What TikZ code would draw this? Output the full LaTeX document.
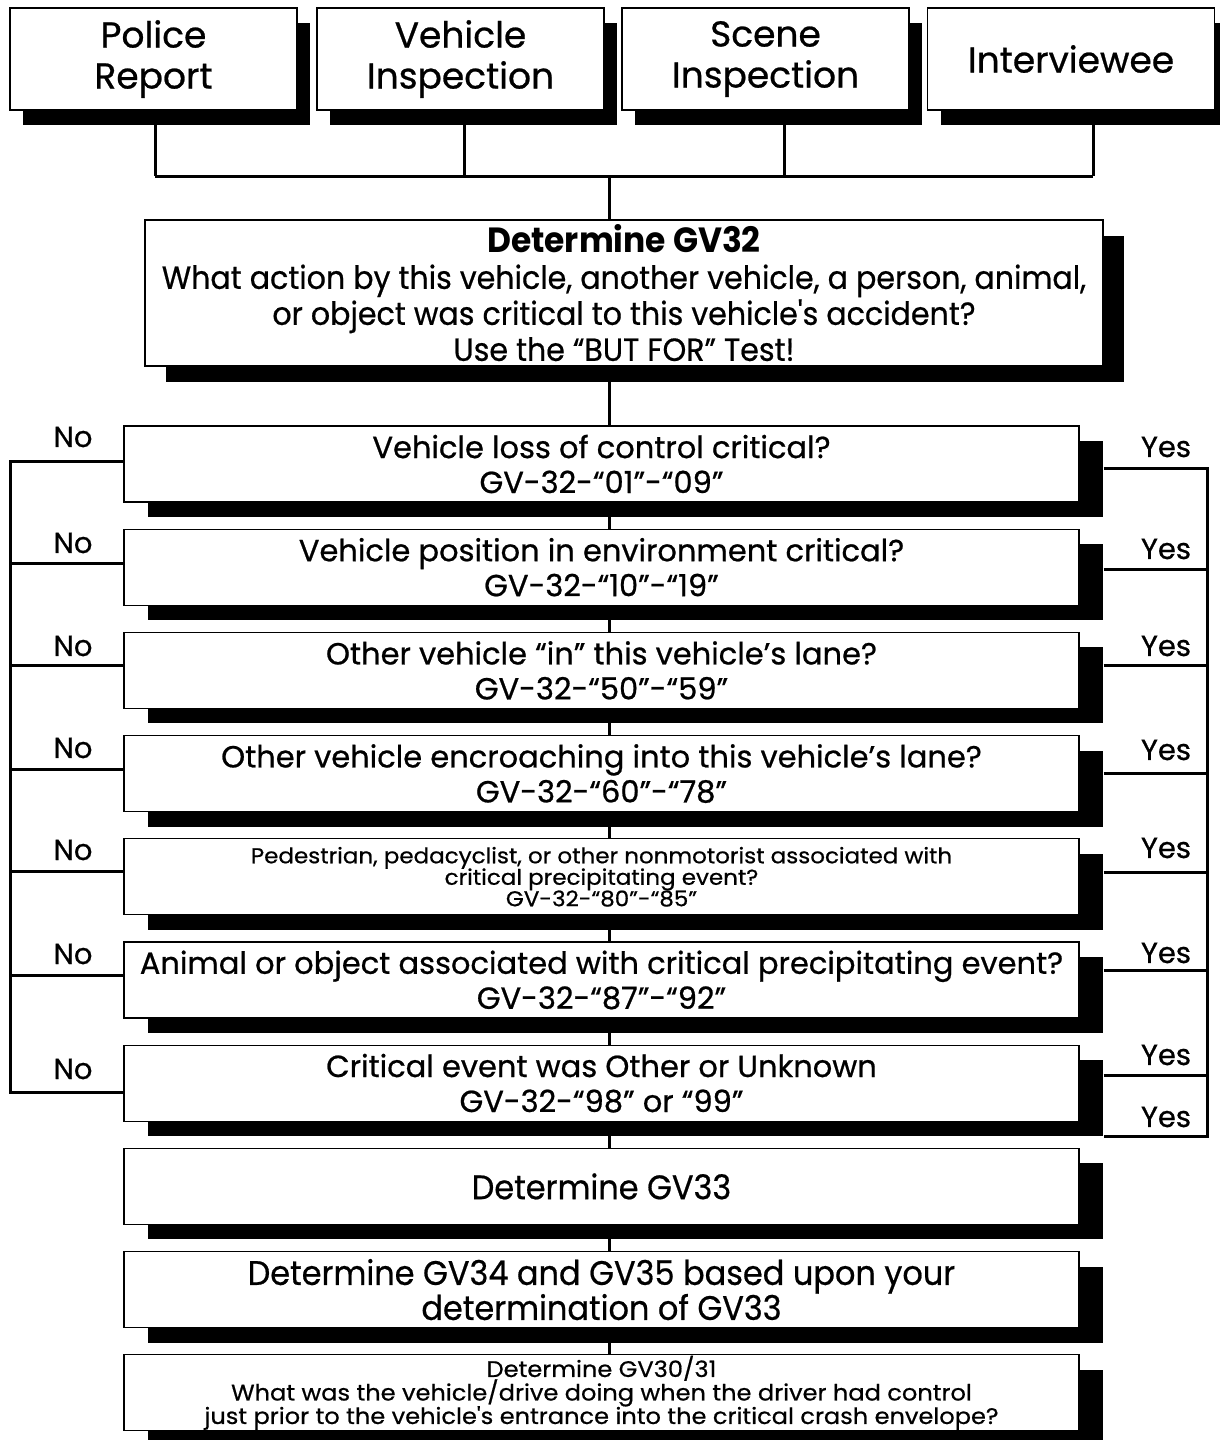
\documentclass[tikz,border=0pt]{standalone}
\usepackage{fontspec}
\setmainfont{Poppins}[UprightFeatures={FakeBold=0.7}]
\newfontfamily\condf{Poppins}[FakeStretch=0.94, UprightFeatures={FakeBold=0.6}]
\newfontfamily\widef{Poppins}[FakeStretch=1.07, UprightFeatures={FakeBold=0.6}]
\usetikzlibrary{shadows,calc}
\newcommand\tightlines{\lineskiplimit=-100pt\relax\lineskip=0pt\relax}
\begin{document}
\begin{tikzpicture}[x=1pt,y=-1pt,
  basebox/.style={draw, line width=1.2pt, fill=white, inner sep=0pt, align=center},
  topbox/.style={basebox, minimum width=287pt, minimum height=102pt,
    drop shadow={shadow xshift=13pt, shadow yshift=-15pt, fill=black, opacity=1},
    font=\fontsize{36}{41}\selectfont},
  qbox/.style={basebox, minimum width=955pt, minimum height=76pt,
    drop shadow={shadow xshift=24pt, shadow yshift=-15pt, fill=black, opacity=1},
    font=\fontsize{30.5}{35}\selectfont},
  conn/.style={line width=3pt},
  lab/.style={font=\fontsize{29}{29}\selectfont, inner sep=0pt}
]
\useasboundingbox[fill=white] (0,0) rectangle (1220,1440);

% top source boxes
\node[topbox] (pr) at (153.5,59) {Police\\Report};
\node[topbox] (vi) at (460.5,59) {Vehicle\\Inspection};
\node[topbox] (si) at (765.5,59) {Scene\\Inspection};
\node[topbox] (iv) at (1071,59) {Interviewee};

% GV32 box
\node[basebox, minimum width=958pt, minimum height=146pt,
  drop shadow={shadow xshift=21pt, shadow yshift=-16pt, fill=black, opacity=1},
  font=\condf\fontsize{32}{36}\selectfont] (gv) at (624,293)
  {{\bfseries\fontsize{35}{36}\selectfont Determine GV32}\\What action by this vehicle, another vehicle, a person, animal,\\or object was critical to this vehicle's accident?\\Use the “BUT FOR” Test!};

% decision boxes
\node[qbox] (q1) at (601.5,464.0) {Vehicle loss of control critical?\\GV-32-“01”-“09”};
\node[qbox] (q2) at (601.5,567.2) {Vehicle position in environment critical?\\GV-32-“10”-“19”};
\node[qbox] (q3) at (601.5,670.4) {Other vehicle “in” this vehicle's lane?\\GV-32-“50”-“59”};
\node[qbox] (q4) at (601.5,773.6) {Other vehicle encroaching into this vehicle's lane?\\GV-32-“60”-“78”};
\node[qbox, font=\widef\fontsize{21.5}{21.5}\selectfont\tightlines] (q5) at (601.5,876.8) {Pedestrian, pedacyclist, or other nonmotorist associated with\\critical precipitating event?\\GV-32-“80”-“85”};
\node[qbox] (q6) at (601.5,980.0) {Animal or object associated with critical precipitating event?\\GV-32-“87”-“92”};
\node[qbox] (q7) at (601.5,1083.2) {Critical event was Other or Unknown\\GV-32-“98” or “99”};
\node[qbox, font=\condf\fontsize{34}{35}\selectfont] (q8) at (601.5,1186.4) {Determine GV33};
\node[qbox, font=\condf\fontsize{34}{35}\selectfont] (q9) at (601.5,1289.6) {Determine GV34 and GV35 based upon your\\determination of GV33};
\node[qbox, font=\widef\fontsize{22.5}{23.5}\selectfont\tightlines] (q10) at (601.5,1392.8) {Determine GV30/31\\What was the vehicle/drive doing when the driver had control\\just prior to the vehicle's entrance into the critical crash envelope?};

% top bus
\coordinate (b1) at (155,176);
\coordinate (b2) at (464,176);
\coordinate (b3) at (784,176);
\coordinate (b4) at (1093,176);
\coordinate (bm) at (609,176);
\coordinate (sp) at (609,0);
\draw[conn] (pr.south -| b1) -- (b1);
\draw[conn] (vi.south -| b2) -- (b2);
\draw[conn] (si.south -| b3) -- (b3);
\draw[conn] (iv.south -| b4) -- (b4);
\draw[conn] (b1) -- (b4);
\draw[conn] (bm) -- (gv.north -| bm);

% spine
\draw[conn] (gv.south -| sp) -- (q1.north -| sp);
\foreach \a/\b in {q1/q2,q2/q3,q3/q4,q4/q5,q5/q6,q6/q7,q7/q8,q8/q9,q9/q10}
  \draw[conn] (\a.south -| sp) -- (\b.north -| sp);

% No side
\coordinate (n1) at (10,461);
\coordinate (n2) at (10,563);
\coordinate (n3) at (10,665);
\coordinate (n4) at (10,769);
\coordinate (n5) at (10,871);
\coordinate (n6) at (10,975);
\coordinate (n7) at (10,1092);
\draw[conn] (q1.west |- n1) -- (n1) -- (n7) -- (q7.west |- n7);
\foreach \i in {2,...,6}
  \draw[conn] (q\i.west |- n\i) -- (n\i);

% Yes side
\coordinate (y1) at (1207,468);
\coordinate (y2) at (1207,569);
\coordinate (y3) at (1207,665);
\coordinate (y4) at (1207,773);
\coordinate (y5) at (1207,872);
\coordinate (y6) at (1207,970);
\coordinate (y7) at (1207,1075);
\coordinate (y8) at (1207,1136);
\draw[conn] ($(q1.east |- y1)+(24,0)$) -- (y1) -- (y8) -- ($(q7.east |- y8)+(24,0)$);
\foreach \i in {2,...,7}
  \draw[conn] ($(q\i.east |- y\i)+(24,0)$) -- (y\i);

% labels
\node[lab] (ln1) at (73,437) {No};
\node[lab] (ln2) at (73,543) {No};
\node[lab] (ln3) at (73,646) {No};
\node[lab] (ln4) at (73,748) {No};
\node[lab] (ln5) at (73,850) {No};
\node[lab] (ln6) at (73,954) {No};
\node[lab] (ln7) at (73,1069) {No};
\node[lab] (ly1) at (1166,447) {Yes};
\node[lab] (ly2) at (1166,549) {Yes};
\node[lab] (ly3) at (1166,646) {Yes};
\node[lab] (ly4) at (1166,750) {Yes};
\node[lab] (ly5) at (1166,848) {Yes};
\node[lab] (ly6) at (1166,953) {Yes};
\node[lab] (ly7) at (1166,1055) {Yes};
\node[lab] (ly8) at (1166,1117) {Yes};
\end{tikzpicture}
\end{document}
